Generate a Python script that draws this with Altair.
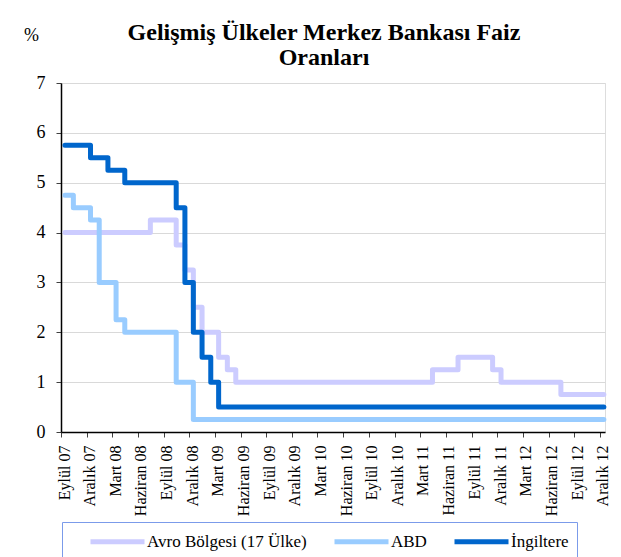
import altair as alt
import pandas as pd

# ---- data (monthly, Eylül 2007 .. Aralık 2012) ----
series_names = ["Avro Bölgesi (17 Ülke)", "ABD", "İngiltere"]
series_colors = ["#CCCCFF", "#99CCFF", "#0066CC"]

avro = [4.0, 4.0, 4.0, 4.0,
        4.0, 4.0, 4.0, 4.0, 4.0, 4.0, 4.25, 4.25, 4.25, 3.75, 3.25, 2.5,
        2.0, 2.0, 1.5, 1.25, 1.0, 1.0, 1.0, 1.0, 1.0, 1.0, 1.0, 1.0,
        1.0, 1.0, 1.0, 1.0, 1.0, 1.0, 1.0, 1.0, 1.0, 1.0, 1.0, 1.0,
        1.0, 1.0, 1.0, 1.25, 1.25, 1.25, 1.5, 1.5, 1.5, 1.5, 1.25, 1.0,
        1.0, 1.0, 1.0, 1.0, 1.0, 1.0, 0.75, 0.75, 0.75, 0.75, 0.75, 0.75]

abd = [4.75, 4.5, 4.5, 4.25,
       3.0, 3.0, 2.25, 2.0, 2.0, 2.0, 2.0, 2.0, 2.0, 1.0, 1.0, 0.25,
       0.25, 0.25, 0.25, 0.25, 0.25, 0.25, 0.25, 0.25, 0.25, 0.25, 0.25, 0.25,
       0.25, 0.25, 0.25, 0.25, 0.25, 0.25, 0.25, 0.25, 0.25, 0.25, 0.25, 0.25,
       0.25, 0.25, 0.25, 0.25, 0.25, 0.25, 0.25, 0.25, 0.25, 0.25, 0.25, 0.25,
       0.25, 0.25, 0.25, 0.25, 0.25, 0.25, 0.25, 0.25, 0.25, 0.25, 0.25, 0.25]

ingiltere = [5.75, 5.75, 5.75, 5.5,
             5.5, 5.25, 5.25, 5.0, 5.0, 5.0, 5.0, 5.0, 5.0, 4.5, 3.0, 2.0,
             1.5, 1.0, 0.5, 0.5, 0.5, 0.5, 0.5, 0.5, 0.5, 0.5, 0.5, 0.5,
             0.5, 0.5, 0.5, 0.5, 0.5, 0.5, 0.5, 0.5, 0.5, 0.5, 0.5, 0.5,
             0.5, 0.5, 0.5, 0.5, 0.5, 0.5, 0.5, 0.5, 0.5, 0.5, 0.5, 0.5,
             0.5, 0.5, 0.5, 0.5, 0.5, 0.5, 0.5, 0.5, 0.5, 0.5, 0.5, 0.5]

# tick labels (quarterly)
month_names = {3: "Mart", 6: "Haziran", 9: "Eylül", 12: "Aralık"}
tick_years = [2007, 2007, 2008, 2008, 2008, 2008, 2009, 2009, 2009, 2009,
              2010, 2010, 2010, 2010, 2011, 2011, 2011, 2011, 2012, 2012, 2012, 2012]
tick_months = [9, 12, 3, 6, 9, 12, 3, 6, 9, 12, 3, 6, 9, 12, 3, 6, 9, 12, 3, 6, 9, 12]

months = pd.date_range("2007-09-01", periods=len(avro), freq="MS") + pd.Timedelta(days=14)
month_str = [d.strftime("%Y-%m-%d") for d in months]

rows = []
for name, vals in zip(series_names, [avro, abd, ingiltere]):
    for d, v in zip(month_str, vals):
        rows.append({"date": d, "value": v, "series": name})
df = pd.DataFrame(rows)

tick_values = [alt.DateTime(year=y, month=m, date=1, utc=True) for y, m in zip(tick_years, tick_months)]

m_expr = "utcmonth(datum.value)+1"
label_expr = (
    f"({m_expr}==3?'{month_names[3]}':{m_expr}==6?'{month_names[6]}':"
    f"{m_expr}==9?'{month_names[9]}':'{month_names[12]}') + ' ' + utcFormat(datum.value, '%y')"
)

FONT = "Liberation Serif"

chart = alt.Chart(df).mark_line(
    interpolate="step-after", strokeWidth=5, strokeCap="round", strokeJoin="round"
).encode(
    x=alt.X(
        "date:T",
        scale=alt.Scale(
            type="utc",
            domain=[alt.DateTime(year=2007, month=9, date=1, utc=True),
                    alt.DateTime(year=2012, month=12, date=19, utc=True)],
            nice=False,
        ),
        axis=alt.Axis(
            values=tick_values, labelExpr=label_expr, labelAngle=-90, title=None,
            grid=False, domainColor="black", domainWidth=1.5, tickColor="#404040",
            tickSize=5, labelFont=FONT, labelFontSize=16, labelColor="black",
            labelPadding=8, labelOffset=3, labelOverlap=False, labelFlush=False,
        ),
    ),
    y=alt.Y(
        "value:Q",
        scale=alt.Scale(domain=[0, 7], nice=False),
        axis=alt.Axis(
            values=[0, 1, 2, 3, 4, 5, 6, 7], title="%", titleAngle=0, titleX=-30, titleY=-43,
            titleAlign="center", titleBaseline="alphabetic", titleFont=FONT,
            titleFontSize=18, titleFontWeight="normal", titleColor="black",
            labelFont=FONT, labelFontSize=18, labelColor="black", labelPadding=11,
            gridColor="#d9d9d9", domainColor="black", domainWidth=1.5,
            tickColor="#404040", tickSize=5,
        ),
    ),
    color=alt.Color(
        "series:N",
        sort=series_names,
        scale=alt.Scale(domain=series_names, range=series_colors),
        legend=alt.Legend(
            title=None, orient="none", legendX=1, legendY=439, direction="horizontal",
            symbolType="M-3,0H3", symbolSize=324, symbolStrokeWidth=5,
            symbolOffset=36, labelOffset=18,
            labelFont=FONT, labelFontSize=17, labelColor="black",
            columnPadding=7, padding=8, strokeColor="#7b9bea",
        ),
    ),
).properties(
    width=544,
    height=349,
    title=alt.TitleParams(
        text=["Gelişmiş Ülkeler Merkez Bankası Faiz", "Oranları"],
        font=FONT, fontSize=24, fontWeight="bold", color="black",
        anchor="middle", dx=-9, dy=56, offset=12, lineHeight=25,
    ),
    autosize=alt.AutoSizeParams(type="none"),
    padding={"left": 53, "top": 75, "right": 8, "bottom": 125},
).configure_view(
    stroke="#a6a6a6", strokeWidth=1
).configure(background="white")

chart.save("out.html", embed_options={"renderer": "svg", "actions": False})
